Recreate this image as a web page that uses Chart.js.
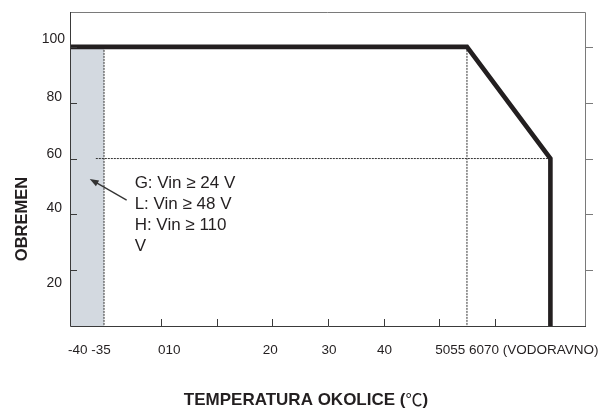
<!DOCTYPE html>
<html>
<head>
<meta charset="utf-8">
<script src="https://cdn.jsdelivr.net/npm/chart.js@4.4.0/dist/chart.umd.min.js"></script>
<style>
    html, body { margin: 0; padding: 0; background: #ffffff; }
    #wrap { width: 601px; height: 414px; }
</style>
</head>
<body>
<div id="wrap"><canvas id="myChart" width="601" height="414"></canvas></div>
<script>
// Derating curve: load (%) against ambient temperature (°C)
const curveTemp = [-40, 55, 70, 70];
const curveLoad = [100, 100, 60, 0];

// Cold start zone (input voltage condition applies here)
const zoneTemp = [-40, -35];
const zoneLoad = [100, 100];

// Dotted guide lines
const guideA_Temp = [-35, -35];
const guideA_Load = [100, 0];
const guideB_Temp = [55, 55];
const guideB_Load = [100, 0];
const guideC_Temp = [-36.2, 70];
const guideC_Load = [60, 60];

// Axes
const yTicks = [100, 80, 60, 40, 20];
const yTickLabels = ["100", "80", "60", "40", "20"];
const xTickMarks = [0, 10, 20, 30, 40, 50, 60];
const xLabelValues = [-40, 0, 20, 30, 40, 50];
const xTickLabels = ["-40 -35", "010", "20", "30", "40", "5055 6070 (VODORAVNO)"];
const xTitleParts = ["TEMPERATURA OKOLICE (", "\u2103", ")"];
const yTitle = "OBREMEN";

// Note with arrow pointing into the cold zone
const noteLines = ["G: Vin \u2265 24 V", "L: Vin \u2265 48 V", "H: Vin \u2265 110", "V"];
const noteAt = { x: -16.2, y: 51.2 };
const arrowFrom = { x: -21.1, y: 45.1 };
const arrowTo = { x: -37.1, y: 52.7 };

// The temperature axis is compressed below 0 °C: [value, fraction of width]
const xStops = [[-40, 0], [-35, 0.0659], [0, 0.1764], [76.4, 1]];

const TEXT = "#231f20";
const FONT = "'Liberation Sans', Arial, sans-serif";

class BrokenLinearScale extends Chart.LinearScale {
    toDecimal(v) {
        for (let i = 1; i < xStops.length; i++) {
            const [v0, d0] = xStops[i - 1];
            const [v1, d1] = xStops[i];
            if (v <= v1 || i === xStops.length - 1) {
                return d0 + (v - v0) / (v1 - v0) * (d1 - d0);
            }
        }
        return 0;
    }
    getPixelForValue(value) {
        return this.getPixelForDecimal(this.toDecimal(value));
    }
    getValueForPixel(pixel) {
        const dec = this.getDecimalForPixel(pixel);
        for (let i = 1; i < xStops.length; i++) {
            const [v0, d0] = xStops[i - 1];
            const [v1, d1] = xStops[i];
            if (dec <= d1 || i === xStops.length - 1) {
                return v0 + (dec - d0) / (d1 - d0) * (v1 - v0);
            }
        }
        return 0;
    }
}
BrokenLinearScale.id = "broken";
BrokenLinearScale.defaults = {};
Chart.register(BrokenLinearScale);

function toPoints(xs, ys) {
    return xs.map((x, i) => ({ x: x, y: ys[i] }));
}

// Frame, ticks, labels, titles and the note
const framePlugin = {
    id: "frame",
    afterDatasetsDraw(chart) {
        const { ctx, chartArea: a, scales } = chart;
        const x = scales.x;
        const y = scales.y;
        ctx.save();

        // frame
        ctx.lineWidth = 1;
        ctx.strokeStyle = "#7a7a7a";
        ctx.beginPath();
        ctx.moveTo(a.left, a.top + 0.5);
        ctx.lineTo(a.right - 0.5, a.top + 0.5);
        ctx.lineTo(a.right - 0.5, a.bottom);
        ctx.stroke();
        ctx.strokeStyle = "#3a3a3a";
        ctx.beginPath();
        ctx.moveTo(a.left + 0.5, a.top);
        ctx.lineTo(a.left + 0.5, a.bottom + 0.5);
        ctx.lineTo(a.right, a.bottom + 0.5);
        ctx.stroke();

        // y ticks: inside on the left, outside on the right
        yTicks.forEach((v) => {
            const py = Math.round(y.getPixelForValue(v)) + 0.5;
            ctx.strokeStyle = "#3a3a3a";
            ctx.beginPath();
            ctx.moveTo(a.left, py);
            ctx.lineTo(a.left + 7, py);
            ctx.stroke();
            ctx.strokeStyle = "#7a7a7a";
            ctx.beginPath();
            ctx.moveTo(a.right, py);
            ctx.lineTo(a.right + 7, py);
            ctx.stroke();
        });

        // x ticks, inside
        ctx.strokeStyle = "#3a3a3a";
        xTickMarks.forEach((v) => {
            const px = Math.round(x.getPixelForValue(v)) + 0.5;
            ctx.beginPath();
            ctx.moveTo(px, a.bottom);
            ctx.lineTo(px, a.bottom - 7);
            ctx.stroke();
        });

        // y labels
        const yShift = [[3, -7.5], [0, -6], [0, -4], [0, -6.5], [0, 12.5]];
        ctx.fillStyle = TEXT;
        ctx.font = "14px " + FONT;
        ctx.textAlign = "right";
        ctx.textBaseline = "middle";
        yTicks.forEach((v, i) => {
            ctx.fillText(yTickLabels[i], a.left - 8 + yShift[i][0], y.getPixelForValue(v) + yShift[i][1]);
        });

        // x labels
        const xAlign = ["left", "left", "center", "center", "center", "left"];
        const xShift = [-2, -3, -2, 1, 1, -4];
        ctx.font = "13.5px " + FONT;
        xLabelValues.forEach((v, i) => {
            ctx.textAlign = xAlign[i];
            ctx.fillText(xTickLabels[i], x.getPixelForValue(v) + xShift[i], a.bottom + 24);
        });

        // x title: bold words, light degree sign
        const titleFonts = ["bold 17px " + FONT, "17px 'Noto Sans CJK SC', 'DejaVu Sans', sans-serif", "bold 17px " + FONT];
        let total = 0;
        const widths = xTitleParts.map((part, i) => {
            ctx.font = titleFonts[i];
            const w = ctx.measureText(part).width;
            total += w;
            return w;
        });
        ctx.textAlign = "left";
        let tx = 306 - total / 2;
        xTitleParts.forEach((part, i) => {
            ctx.font = titleFonts[i];
            ctx.fillText(part, tx, 400);
            tx += widths[i];
        });

        // y title
        ctx.save();
        ctx.translate(22, 219);
        ctx.rotate(-Math.PI / 2);
        ctx.textAlign = "center";
        ctx.font = "bold 16.5px " + FONT;
        ctx.fillText(yTitle, 0, 0);
        ctx.restore();

        // note text
        ctx.font = "17px " + FONT;
        ctx.textAlign = "left";
        const nx = x.getPixelForValue(noteAt.x);
        const ny = y.getPixelForValue(noteAt.y);
        noteLines.forEach((line, i) => {
            ctx.fillText(line, nx, ny + i * 21);
        });

        // arrow
        const x0 = x.getPixelForValue(arrowFrom.x);
        const y0 = y.getPixelForValue(arrowFrom.y);
        const x1 = x.getPixelForValue(arrowTo.x);
        const y1 = y.getPixelForValue(arrowTo.y);
        const ang = Math.atan2(y1 - y0, x1 - x0);
        ctx.strokeStyle = "#333333";
        ctx.fillStyle = "#333333";
        ctx.lineWidth = 1.3;
        ctx.beginPath();
        ctx.moveTo(x0, y0);
        ctx.lineTo(x1 - 6 * Math.cos(ang), y1 - 6 * Math.sin(ang));
        ctx.stroke();
        ctx.beginPath();
        ctx.moveTo(x1, y1);
        ctx.lineTo(x1 - 9 * Math.cos(ang) + 3.2 * Math.sin(ang), y1 - 9 * Math.sin(ang) - 3.2 * Math.cos(ang));
        ctx.lineTo(x1 - 9 * Math.cos(ang) - 3.2 * Math.sin(ang), y1 - 9 * Math.sin(ang) + 3.2 * Math.cos(ang));
        ctx.closePath();
        ctx.fill();

        ctx.restore();
    }
};

const guideStyle = {
    borderColor: "#333333",
    borderWidth: 1,
    borderDash: [2, 1],
    pointRadius: 0,
    fill: false,
    order: 2,
};

const ctx = document.getElementById("myChart").getContext("2d");
const myChart = new Chart(ctx, {
    type: "line",
    data: {
        datasets: [
            {
                data: toPoints(curveTemp, curveLoad),
                borderColor: "#231f20",
                borderWidth: 4.6,
                borderJoinStyle: "miter",
                pointRadius: 0,
                fill: false,
                tension: 0,
                order: 0,
            },
            Object.assign({ data: toPoints(guideA_Temp, guideA_Load) }, guideStyle),
            Object.assign({ data: toPoints(guideB_Temp, guideB_Load) }, guideStyle),
            Object.assign({ data: toPoints(guideC_Temp, guideC_Load) }, guideStyle),
            {
                data: toPoints(zoneTemp, zoneLoad),
                borderWidth: 0,
                borderColor: "rgba(0,0,0,0)",
                backgroundColor: "#d3d9e0",
                pointRadius: 0,
                fill: "origin",
                order: 3,
            },
        ],
    },
    options: {
        responsive: false,
        animation: false,
        layout: { padding: { left: 70, right: 15, top: 12, bottom: 88 } },
        plugins: {
            legend: { display: false },
            tooltip: { enabled: false },
        },
        scales: {
            x: { type: "broken", min: -40, max: 76.4, display: false },
            y: { type: "linear", min: 0, max: 112.5, display: false },
        },
    },
    plugins: [framePlugin],
});
</script>
</body>
</html>
